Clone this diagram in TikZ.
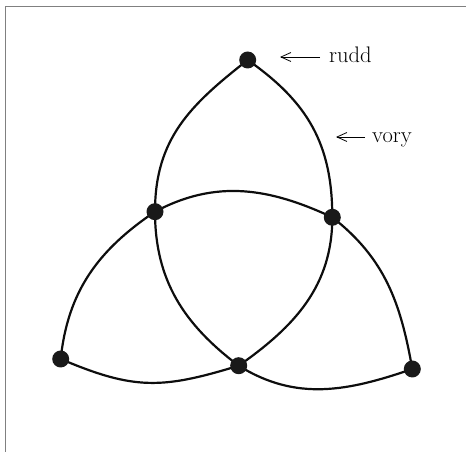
\documentclass[tikz,border=0pt]{standalone}
\usetikzlibrary{arrows.meta}
\begin{document}
\begin{tikzpicture}[x=1pt,y=1pt,
  dotnode/.style={circle,fill=black!90,inner sep=0pt,minimum size=17pt},
  edge/.style={line width=2.2pt,black!95},
  lbl/.style={font=\fontsize{22.5}{26}\selectfont,inner sep=0pt},
  pointer/.style={line width=0.8pt,-{Straight Barb[length=10pt,width=9pt]}}]
\useasboundingbox (0,0) rectangle (466,452);
\draw[gray,line width=0.9pt] (5,0) -- (5,446) -- (466,446);
\coordinate (T) at (247.7,392);
\coordinate (L) at (155,240.3);
\coordinate (R) at (332.3,234.7);
\coordinate (BL) at (60.7,93);
\coordinate (B) at (238.7,86.3);
\coordinate (BR) at (412.3,83);
\draw[edge] (T) to[out=218,in=90,looseness=1.05] (L);
\draw[edge] (L) to[out=-90,in=143] (B);
\draw[edge] (T) to[out=-35,in=90,looseness=1.05] (R);
\draw[edge] (R) to[out=-90,in=35] (B);
\draw[edge] (L) to[out=28,in=155] (R);
\draw[edge] (L) to[out=214,in=84] (BL);
\draw[edge] (BL) to[out=-23,in=197,looseness=1.15] (B);
\draw[edge] (B) to[out=-32,in=199] (BR);
\draw[edge] (BR) to[out=100,in=-38] (R);
\foreach \n in {T,L,R,BL,B,BR} \node[dotnode] (d\n) at (\n) {};
\node[lbl,anchor=base west] (rudd) at (329,389) {rudd};
\node[lbl,anchor=base west] (vory) at (372,309) {vory};
\coordinate (ruddtail) at ([xshift=-9pt,yshift=6pt]rudd.base west);
\coordinate (ruddtip) at ([xshift=-40pt]ruddtail);
\coordinate (vorytail) at ([xshift=-7pt,yshift=6pt]vory.base west);
\coordinate (vorytip) at ([xshift=-29pt]vorytail);
\draw[pointer] (ruddtail) -- (ruddtip);
\draw[pointer] (vorytail) -- (vorytip);
\end{tikzpicture}
\end{document}
